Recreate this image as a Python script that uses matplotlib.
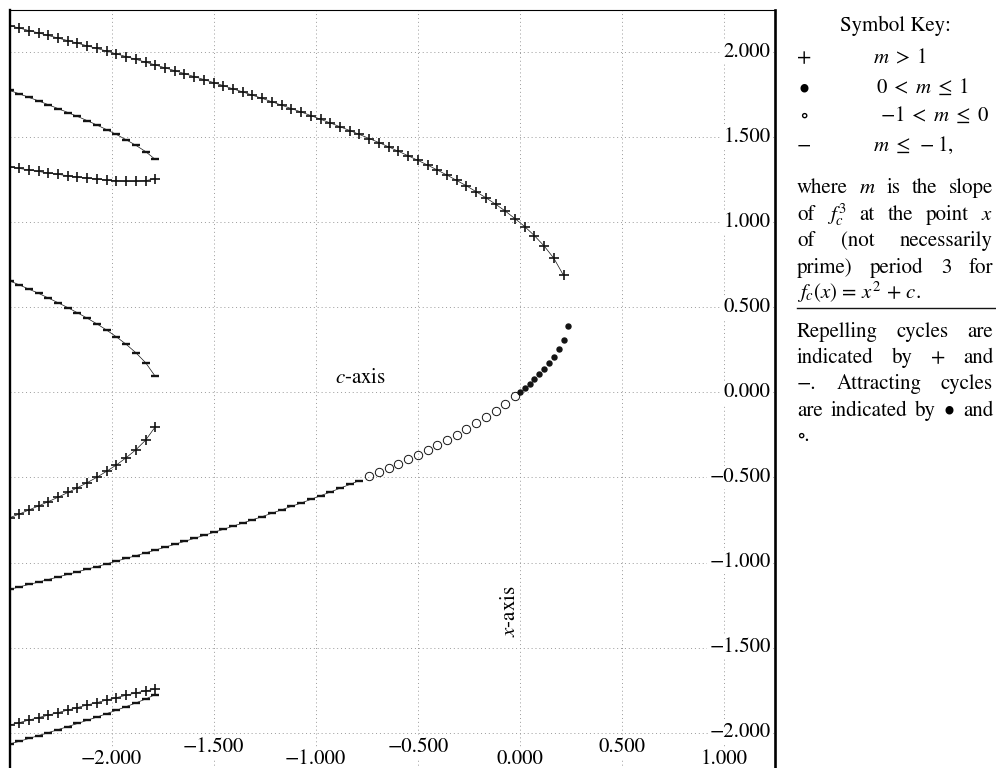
import matplotlib
matplotlib.use("Agg")
import matplotlib.pyplot as plt
from matplotlib.lines import Line2D
from matplotlib.transforms import blended_transform_factory

plt.rcParams['font.family'] = ['STIXGeneral', 'DejaVu Serif']
plt.rcParams['mathtext.fontset'] = 'stix'

# ---------------- data ----------------
# parameter values c (horizontal axis)
c_main = [-2.500, -2.452, -2.405, -2.357, -2.310, -2.262, -2.214, -2.167, -2.119, -2.071,
          -2.024, -1.976, -1.929, -1.881, -1.833, -1.786, -1.738, -1.690, -1.643, -1.595,
          -1.548, -1.500, -1.452, -1.405, -1.357, -1.310, -1.262, -1.214, -1.167, -1.119,
          -1.071, -1.024, -0.976, -0.929, -0.881, -0.833, -0.786, -0.738, -0.690, -0.643,
          -0.595, -0.548, -0.500, -0.452, -0.405, -0.357, -0.310, -0.262, -0.214, -0.167,
          -0.119, -0.071, -0.024, 0.024, 0.071, 0.119, 0.167, 0.214]

# upper fixed point branch (m > 1)
x_beta = [2.158, 2.144, 2.129, 2.115, 2.100, 2.085, 2.070, 2.055, 2.039, 2.024,
          2.008, 1.992, 1.976, 1.960, 1.943, 1.927, 1.910, 1.893, 1.876, 1.858,
          1.841, 1.823, 1.805, 1.786, 1.768, 1.749, 1.730, 1.710, 1.690, 1.670,
          1.650, 1.629, 1.607, 1.586, 1.563, 1.541, 1.518, 1.494, 1.470, 1.445,
          1.419, 1.393, 1.366, 1.338, 1.309, 1.279, 1.248, 1.216, 1.181, 1.146,
          1.108, 1.067, 1.023, 0.976, 0.923, 0.862, 0.789, 0.689]

# lower fixed point branch, m <= -1
x_alpha_rep = [-1.158, -1.144, -1.129, -1.115, -1.100, -1.085, -1.070, -1.055, -1.039, -1.024,
               -1.008, -0.992, -0.976, -0.960, -0.943, -0.927, -0.910, -0.893, -0.876, -0.858,
               -0.841, -0.823, -0.805, -0.786, -0.768, -0.749, -0.730, -0.710, -0.690, -0.670,
               -0.650, -0.629, -0.607, -0.586, -0.563, -0.541, -0.518]
# lower fixed point branch, -1 < m <= 0
x_alpha_circ = [-0.494, -0.470, -0.445, -0.419, -0.393, -0.366, -0.338, -0.309,
                -0.279, -0.248, -0.216, -0.181, -0.146, -0.108, -0.067, -0.023]
# lower fixed point branch, 0 < m <= 1
c_dots = [0.000, 0.024, 0.048, 0.071, 0.095, 0.119, 0.143, 0.167, 0.190, 0.214, 0.238]
x_dots = [0.000, 0.024, 0.050, 0.077, 0.107, 0.138, 0.173, 0.211, 0.256, 0.311, 0.391]

# period-3 cycles (c from -2.5 to -1.786)
p3_plus_top = [1.328, 1.318, 1.309, 1.300, 1.291, 1.283, 1.275, 1.268, 1.261, 1.255,
               1.249, 1.245, 1.243, 1.243, 1.246, 1.258]
p3_plus_mid = [-0.737, -0.715, -0.691, -0.667, -0.642, -0.616, -0.588, -0.560, -0.530, -0.498,
               -0.463, -0.426, -0.384, -0.337, -0.280, -0.202]
p3_plus_low = [-1.956, -1.942, -1.927, -1.912, -1.898, -1.883, -1.868, -1.853, -1.838, -1.824,
               -1.809, -1.795, -1.781, -1.767, -1.755, -1.745]
p3_minus_top = [1.777, 1.757, 1.736, 1.715, 1.693, 1.670, 1.647, 1.624, 1.599, 1.573,
                1.546, 1.518, 1.487, 1.454, 1.417, 1.371]
p3_minus_mid = [0.657, 0.633, 0.608, 0.583, 0.556, 0.528, 0.499, 0.469, 0.437, 0.403,
                0.367, 0.327, 0.284, 0.234, 0.175, 0.095]
p3_minus_low = [-2.068, -2.052, -2.035, -2.018, -2.001, -1.983, -1.965, -1.947, -1.928, -1.909,
                -1.889, -1.869, -1.848, -1.826, -1.803, -1.777]

c_p3 = c_main[:16]
c_alpha_rep = c_main[:37]
c_alpha_circ = c_main[37:53]

xgrid = [-2.0, -1.5, -1.0, -0.5, 0.0, 0.5, 1.0]
xtick_labels = ['\u22122.000', '\u22121.500', '\u22121.000', '\u22120.500', '0.000', '0.500', '1.000']
ygrid = [2.0, 1.5, 1.0, 0.5, 0.0, -0.5, -1.0, -1.5, -2.0]
ytick_labels = ['2.000', '1.500', '1.000', '0.500', '0.000',
                '\u22120.500', '\u22121.000', '\u22121.500', '\u22122.000']

# ---------------- figure ----------------
W, H = 996, 768
FS = 15
fig = plt.figure(figsize=(W / 100, H / 100), dpi=100)
ax = fig.add_axes([9.5 / W, 1 - 775 / H, (775 - 9.5) / W, (775 - 10) / H])
ax.set_xlim(-2.5, 1.25)
ax.set_ylim(-2.25, 2.25)
ax.set_xticks([])
ax.set_yticks([])
ax.spines['left'].set_linewidth(1.7)
ax.spines['right'].set_linewidth(1.9)
ax.spines['top'].set_linewidth(0.8)
ax.spines['bottom'].set_visible(False)

gkw = dict(color='#9a9a9a', lw=0.7, ls=(0, (1, 3)), zorder=0)
for v in xgrid:
    ax.axvline(v, **gkw)
for v in ygrid:
    ax.axhline(v, **gkw)

ink = '#141414'
lkw = dict(color=ink, lw=0.5, zorder=2)
plus = dict(marker='+', ms=7, mew=1.2, mec=ink)
dash = dict(marker='_', ms=6, mew=1.7, mec=ink)

ax.plot(c_main, x_beta, **lkw, **plus)
ax.plot(c_alpha_rep, x_alpha_rep, **lkw, **dash)
ax.plot(c_alpha_circ, x_alpha_circ, ls='none', marker='o', ms=6, mew=0.7,
        mec=ink, mfc='none', zorder=2)
ax.plot(c_dots, x_dots, ls='none', marker='o', ms=3.6, mec=ink, mfc=ink, zorder=2)

ax.plot(c_p3, p3_plus_top, **lkw, **plus)
ax.plot(c_p3, p3_plus_mid, **lkw, **plus)
ax.plot(c_p3, p3_plus_low, **lkw, **plus)
ax.plot(c_p3, p3_minus_top, **lkw, **dash)
ax.plot(c_p3, p3_minus_mid, **lkw, **dash)
ax.plot(c_p3, p3_minus_low, **lkw, **dash)

# tick labels drawn inside the frame
bb = dict(fc='white', ec='none', pad=1.5)
ytr = blended_transform_factory(ax.transAxes, ax.transData)
for v, lab in zip(ygrid, ytick_labels):
    ax.text(0.9945, v, lab, transform=ytr, ha='right', va='center', fontsize=FS,
            bbox=bb, zorder=3)
xtr = blended_transform_factory(ax.transData, fig.transFigure)
for i, (v, lab) in enumerate(zip(xgrid, xtick_labels)):
    ypx = 759 if i % 2 == 0 else 747
    ax.text(v, 1 - ypx / H, lab, transform=xtr, ha='center', va='center', fontsize=FS,
            bbox=bb, zorder=3, clip_on=False)

ax.text(-0.780, 0.085, '$c$-axis', ha='center', va='center', fontsize=FS, zorder=3)
ax.text(-0.048, -1.285, '$x$-axis', ha='center', va='center', rotation=90,
        fontsize=FS, zorder=3)

# ---------------- symbol key ----------------
def ftext(x, y, s, **kw):
    return fig.text(x / W, 1 - y / H, s, fontsize=FS, **kw)

ftext(895, 31, 'Symbol Key:', ha='center', va='baseline')
key_rows = [('+', '$m\\;>\\;1$', 63, 873),
            ('\u2022', '$0\\;<\\;m\\;\\leq\\;1$', 93, 876),
            ('\u2218', '$-1\\;<\\;m\\;\\leq\\;0$', 121, 880),
            ('\u2212', '$m\\;\\leq\\;-1$,', 151, 873)]
for sym, txt, yb, xt in key_rows:
    ftext(804, yb, sym, ha='center', va='baseline')
    ftext(xt, yb, txt, ha='left', va='baseline')

renderer = fig.canvas.get_renderer()
X0, X1 = 797, 993


def line(words, ybase, justify=True):
    objs = [ftext(0, ybase, w, ha='left', va='baseline') for w in words]
    widths = [o.get_window_extent(renderer).width for o in objs]
    if justify and len(words) > 1:
        gap = (X1 - X0 - sum(widths)) / (len(words) - 1)
    else:
        gap = 5
    x = X0
    for o, w in zip(objs, widths):
        o.set_x(x / W)
        x += w + gap


para1 = [(['where', '$m$', 'is', 'the', 'slope'], 193, True),
         (['of', '$f_c^3$', 'at', 'the', 'point', '$x$'], 220, True),
         (['of', '(not', 'necessarily'], 246, True),
         (['prime)', 'period', '3', 'for'], 273, True),
         (['$f_c(x)\\,=\\,x^2\\,+\\,c$.'], 299, False)]
for words, yb, j in para1:
    line(words, yb, j)

fig.add_artist(Line2D([797 / W, 996 / W], [1 - 308 / H, 1 - 308 / H],
                      transform=fig.transFigure, color=ink, lw=1.0))

para2 = [(['Repelling', 'cycles', 'are'], 337, True),
         (['indicated', 'by', '+', 'and'], 363, True),
         (['\u2212.', 'Attracting', 'cycles'], 389, True),
         (['are', 'indicated', 'by', '\u2022', 'and'], 416, True),
         (['\u2218.'], 441, False)]
for words, yb, j in para2:
    line(words, yb, j)

fig.savefig('out.png', dpi=100)
